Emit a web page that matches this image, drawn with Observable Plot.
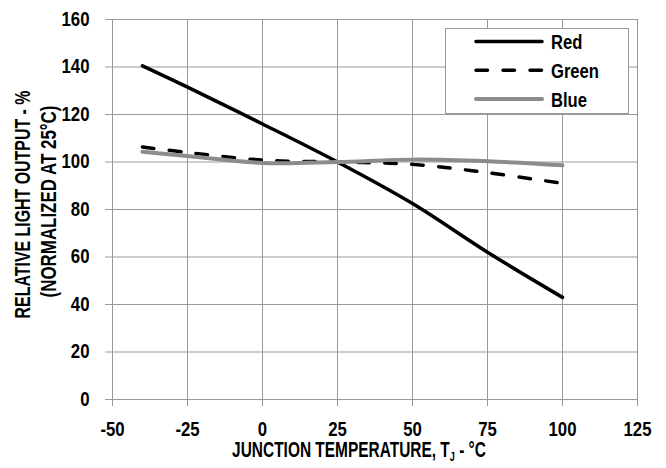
<!DOCTYPE html>
<html>
<head>
<meta charset="utf-8">
<script src="https://cdn.jsdelivr.net/npm/d3@7"></script>
<script src="https://cdn.jsdelivr.net/npm/@observablehq/plot@0.6"></script>
<style>
  html, body { margin: 0; padding: 0; background: #fff; }
  #wrap { position: relative; width: 666px; height: 468px; font-family: "Liberation Sans", Arial, sans-serif; font-weight: bold; }
  #legend { position: absolute; left: 445px; top: 28px; }
</style>
</head>
<body>
<div id="wrap"></div>
<script>
// ---- data ----
const temps = [-40, -25, 0, 25, 50, 75, 100];
const redValues = [140.5, 131.5, 116, 100, 82.5, 62, 43];
const greenValues = [106.3, 104, 100.8, 100, 99, 95.5, 91];
const blueValues = [104.3, 102.5, 99.6, 100, 101, 100.3, 98.6];
const seriesNames = ["Red", "Green", "Blue"];
const xTicks = [-50, -25, 0, 25, 50, 75, 100, 125];
const yTicks = [0, 20, 40, 60, 80, 100, 120, 140, 160];
const yTitle1 = "RELATIVE LIGHT OUTPUT - %";
const yTitle2 = "(NORMALIZED AT 25°C)";
const xTitleMain = "JUNCTION TEMPERATURE, T";
const xTitleSub = "J";
const xTitleEnd = " - °C";

const styles = {
  Red: {stroke: "#000", strokeWidth: 3.5, dash: null},
  Green: {stroke: "#000", strokeWidth: 3.5, dash: "11.5,15.5"},
  Blue: {stroke: "#8c8c8c", strokeWidth: 4, dash: null}
};

const seriesValues = {Red: redValues, Green: greenValues, Blue: blueValues};
const rowsFor = (name) => temps.map((t, i) => ({t, v: seriesValues[name][i]}));

const font = '"Liberation Sans", Arial, sans-serif';

const lineMarks = seriesNames.map(name => Plot.line(rowsFor(name), {
  x: "t", y: "v",
  stroke: styles[name].stroke,
  strokeWidth: styles[name].strokeWidth,
  strokeDasharray: styles[name].dash,
  strokeLinecap: "round",
  curve: "catmull-rom"
}));

const chart = Plot.plot({
  width: 666,
  height: 468,
  marginLeft: 112,
  marginRight: 29,
  marginTop: 19,
  marginBottom: 69,
  x: {domain: [-50, 125]},
  y: {domain: [0, 160]},
  style: {fontFamily: font, fontSize: "20px", fontWeight: "bold", color: "#000", background: "#fff", overflow: "visible"},
  marks: [
    Plot.gridX({ticks: xTicks, stroke: "#999", strokeOpacity: 1, strokeWidth: 1}),
    Plot.gridY({ticks: yTicks, stroke: "#999", strokeOpacity: 1, strokeWidth: 1}),
    Plot.frame({stroke: "#999", strokeWidth: 1}),
    Plot.axisX({ticks: xTicks, tickSize: 7, tickPadding: 15, tickFormat: d => String(d), stroke: "#999", fill: "#000", label: null, fontSize: 20}),
    Plot.axisY({ticks: yTicks, tickSize: 7, tickPadding: 16, tickFormat: d => String(d), stroke: "#999", fill: "#000", label: null, fontSize: 20}),
    ...lineMarks,
    Plot.text([yTitle1], {text: d => d, frameAnchor: "left", textAnchor: "middle", lineAnchor: "middle", rotate: -90, dx: -90, dy: -5, fontSize: 22, fill: "#000"}),
    Plot.text([yTitle2], {text: d => d, frameAnchor: "left", textAnchor: "middle", lineAnchor: "middle", rotate: -90, dx: -64, dy: -8, fontSize: 22, fill: "#000"}),
    Plot.text([xTitleMain + xTitleSub + xTitleEnd], {text: d => d, frameAnchor: "bottom", textAnchor: "middle", dx: -16, dy: 57, fontSize: 22, fill: "#000"})
  ]
});

document.getElementById("wrap").appendChild(chart);

// horizontal condensing around each text's anchor point (mimics a condensed face)
function condense(el, s) {
  const b = el.getBBox();
  const anchor = getComputedStyle(el).textAnchor;
  const px = anchor === "end" ? b.x + b.width : anchor === "middle" ? b.x + b.width / 2 : b.x;
  const t = el.getAttribute("transform");
  el.setAttribute("transform", (t ? t + " " : "") + `translate(${px},0) scale(${s},1) translate(${-px},0)`);
}
function condenseTo(el, width) { condense(el, width / el.getBBox().width); }

const svg = d3.select(chart);
const allTexts = svg.selectAll("text").nodes();

// x-title with subscript
allTexts.forEach(el => {
  if (el.textContent === xTitleMain + xTitleSub + xTitleEnd) {
    const sel = d3.select(el);
    sel.text(null);
    sel.append("tspan").text(xTitleMain);
    sel.append("tspan").attr("font-size", 13).attr("dy", "4").text(xTitleSub);
    sel.append("tspan").attr("dy", "-4").text(xTitleEnd);
  }
});

const ref160 = allTexts.find(el => el.textContent === "160");
const tickScale = 28 / ref160.getBBox().width;

allTexts.forEach(el => {
  const t = el.textContent;
  if (t === yTitle1) condenseTo(el, 228);
  else if (t === yTitle2) condenseTo(el, 192);
  else if (t === xTitleMain + xTitleSub + xTitleEnd) condenseTo(el, 254);
  else condense(el, tickScale);
});

// legend (overlay)
const lg = d3.select("#wrap").append("svg")
  .attr("id", "legend")
  .attr("width", 184).attr("height", 86)
  .style("font-family", font).style("font-weight", "bold");
lg.append("rect").attr("x", 0.5).attr("y", 0.5).attr("width", 183).attr("height", 85)
  .attr("fill", "#fff").attr("stroke", "#999");
const legendTexts = [];
seriesNames.forEach((name, i) => {
  const cy = 13.5 + i * 28.7;
  lg.append("line").attr("x1", 31).attr("x2", 97).attr("y1", cy).attr("y2", cy)
    .attr("stroke", styles[name].stroke).attr("stroke-width", styles[name].strokeWidth)
    .attr("stroke-dasharray", styles[name].dash).attr("stroke-linecap", "round");
  legendTexts.push(lg.append("text").attr("x", 106).attr("y", cy + 8).attr("font-size", 21).attr("fill", "#000").text(name).node());
});
const greenText = legendTexts[1];
const legendScale = 48 / greenText.getBBox().width;
legendTexts.forEach(el => condense(el, legendScale));
</script>
</body>
</html>
